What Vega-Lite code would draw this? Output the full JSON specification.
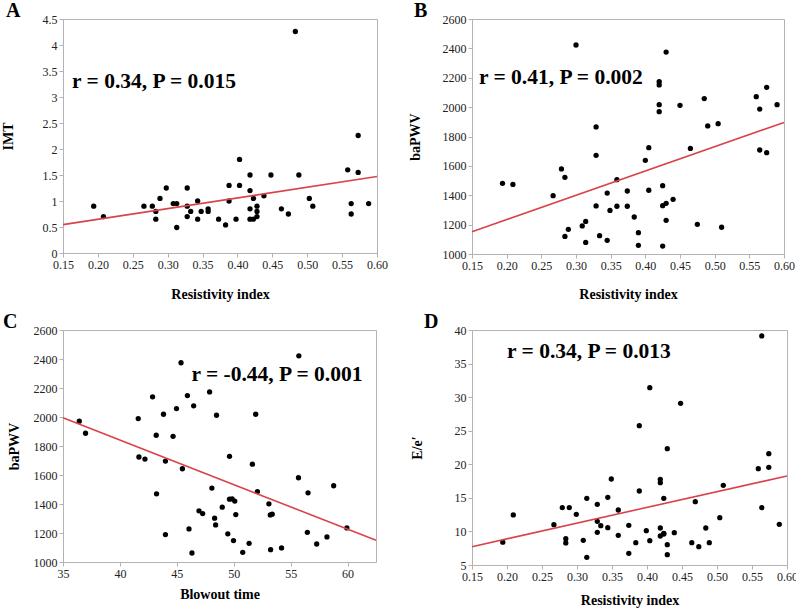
{
  "$schema": "https://vega.github.io/schema/vega-lite/v6.json",
  "background": "white",
  "padding": {"left": 0, "top": 0, "right": 0, "bottom": 0},
  "config": {
    "font": "Liberation Serif",
    "view": {"stroke": "#b3b3b3", "strokeWidth": 1},
    "axis": {
      "grid": false, "domainColor": "#b3b3b3", "tickColor": "#b3b3b3", "tickSize": 4,
      "labelFont": "Liberation Serif", "labelFontSize": 12, "labelColor": "#222222", "labelPadding": 2,
      "labelOverlap": false, "labelFlush": false,
      "titleFont": "Liberation Serif", "titleFontSize": 14, "titleFontWeight": "bold", "titleColor": "#000000"
    },
    "title": {"font": "Liberation Serif", "fontSize": 20, "fontWeight": "bold", "color": "#000000", "anchor": "start", "frame": "group", "offset": 0, "baseline": "alphabetic"}
  },
  "datasets": {
    "a": [
      {"x":0.194,"y":0.9},{"x":0.208,"y":0.7},{"x":0.266,"y":0.9},{"x":0.278,"y":0.9},{"x":0.283,"y":0.8},{"x":0.283,"y":0.65},{"x":0.289,"y":1.05},{"x":0.298,"y":1.25},{"x":0.308,"y":0.95},{"x":0.313,"y":0.95},{"x":0.313,"y":0.49},{"x":0.328,"y":1.25},{"x":0.328,"y":0.9},{"x":0.328,"y":0.7},{"x":0.333,"y":0.8},{"x":0.343,"y":1.0},{"x":0.343,"y":0.65},{"x":0.348,"y":0.8},{"x":0.358,"y":0.85},{"x":0.358,"y":0.8},{"x":0.373,"y":0.65},{"x":0.383,"y":0.54},{"x":0.388,"y":1.3},{"x":0.388,"y":1.0},{"x":0.398,"y":0.65},{"x":0.403,"y":1.8},{"x":0.403,"y":1.3},{"x":0.418,"y":1.5},{"x":0.418,"y":1.2},{"x":0.418,"y":0.85},{"x":0.418,"y":0.65},{"x":0.423,"y":1.05},{"x":0.423,"y":0.65},{"x":0.428,"y":0.9},{"x":0.428,"y":0.8},{"x":0.428,"y":0.7},{"x":0.438,"y":1.1},{"x":0.448,"y":1.5},{"x":0.463,"y":0.85},{"x":0.473,"y":0.75},{"x":0.483,"y":4.26},{"x":0.488,"y":1.5},{"x":0.503,"y":1.05},{"x":0.508,"y":0.9},{"x":0.558,"y":1.6},{"x":0.563,"y":0.95},{"x":0.563,"y":0.75},{"x":0.573,"y":2.26},{"x":0.573,"y":1.55},{"x":0.588,"y":0.95}
    ],
    "aLine": [{"x":0.15,"y":0.545},{"x":0.6,"y":1.47}],
    "b": [
      {"x":0.194,"y":1481},{"x":0.209,"y":1474},{"x":0.267,"y":1397},{"x":0.279,"y":1579},{"x":0.284,"y":1522},{"x":0.284,"y":1120},{"x":0.289,"y":1168},{"x":0.3,"y":2423},{"x":0.309,"y":1191},{"x":0.314,"y":1222},{"x":0.314,"y":1079},{"x":0.329,"y":1865},{"x":0.329,"y":1672},{"x":0.329,"y":1327},{"x":0.334,"y":1125},{"x":0.345,"y":1415},{"x":0.345,"y":1093},{"x":0.349,"y":1297},{"x":0.359,"y":1506},{"x":0.359,"y":1325},{"x":0.374,"y":1429},{"x":0.374,"y":1325},{"x":0.384,"y":1252},{"x":0.39,"y":1145},{"x":0.39,"y":1059},{"x":0.4,"y":1638},{"x":0.405,"y":1724},{"x":0.405,"y":1434},{"x":0.42,"y":2173},{"x":0.42,"y":2151},{"x":0.42,"y":2017},{"x":0.42,"y":1969},{"x":0.425,"y":1465},{"x":0.425,"y":1329},{"x":0.425,"y":1054},{"x":0.43,"y":2375},{"x":0.43,"y":1345},{"x":0.43,"y":1229},{"x":0.44,"y":1372},{"x":0.45,"y":2012},{"x":0.465,"y":1719},{"x":0.475,"y":1202},{"x":0.485,"y":2058},{"x":0.49,"y":1872},{"x":0.505,"y":1887},{"x":0.51,"y":1182},{"x":0.56,"y":2071},{"x":0.565,"y":1987},{"x":0.565,"y":1708},{"x":0.575,"y":2135},{"x":0.575,"y":1690},{"x":0.59,"y":2017}
    ],
    "bLine": [{"x":0.15,"y":1152},{"x":0.6,"y":1896}],
    "c": [
      {"x":36.43,"y":1971},{"x":36.98,"y":1888},{"x":41.61,"y":1989},{"x":41.67,"y":1724},{"x":42.2,"y":1710},{"x":42.87,"y":2139},{"x":43.19,"y":1874},{"x":43.22,"y":1470},{"x":43.83,"y":2019},{"x":44.0,"y":1696},{"x":44.0,"y":1189},{"x":44.67,"y":1867},{"x":44.97,"y":2058},{"x":45.37,"y":2374},{"x":45.49,"y":1643},{"x":45.93,"y":2148},{"x":46.07,"y":1228},{"x":46.33,"y":1062},{"x":46.48,"y":2077},{"x":46.95,"y":1353},{"x":47.27,"y":1334},{"x":47.88,"y":2173},{"x":48.08,"y":1510},{"x":48.32,"y":1302},{"x":48.41,"y":1256},{"x":48.49,"y":2012},{"x":48.99,"y":1378},{"x":49.48,"y":1194},{"x":49.63,"y":1729},{"x":49.63,"y":1433},{"x":49.86,"y":1436},{"x":49.98,"y":1148},{"x":50.09,"y":1420},{"x":50.18,"y":1327},{"x":50.79,"y":1067},{"x":51.35,"y":1129},{"x":51.64,"y":1675},{"x":51.93,"y":2019},{"x":52.08,"y":1486},{"x":53.09,"y":1401},{"x":53.21,"y":1325},{"x":53.24,"y":1085},{"x":53.38,"y":1330},{"x":54.2,"y":1097},{"x":55.72,"y":2422},{"x":55.69,"y":1581},{"x":56.47,"y":1205},{"x":56.53,"y":1477},{"x":57.29,"y":1124},{"x":58.19,"y":1173},{"x":58.78,"y":1526},{"x":59.94,"y":1235}
    ],
    "cLine": [{"x":35,"y":1994},{"x":62.5,"y":1150}],
    "d": [
      {"x":0.194,"y":8.4},{"x":0.209,"y":12.45},{"x":0.267,"y":11.0},{"x":0.279,"y":13.54},{"x":0.284,"y":8.92},{"x":0.284,"y":8.28},{"x":0.289,"y":13.54},{"x":0.299,"y":12.55},{"x":0.309,"y":8.67},{"x":0.314,"y":14.93},{"x":0.314,"y":6.14},{"x":0.329,"y":14.04},{"x":0.329,"y":11.5},{"x":0.329,"y":9.87},{"x":0.334,"y":10.86},{"x":0.344,"y":15.08},{"x":0.344,"y":10.56},{"x":0.349,"y":17.81},{"x":0.359,"y":13.19},{"x":0.359,"y":9.42},{"x":0.374,"y":10.91},{"x":0.374,"y":6.74},{"x":0.384,"y":8.33},{"x":0.389,"y":25.75},{"x":0.389,"y":16.02},{"x":0.399,"y":10.11},{"x":0.404,"y":31.41},{"x":0.404,"y":8.62},{"x":0.419,"y":17.76},{"x":0.419,"y":17.26},{"x":0.419,"y":10.51},{"x":0.419,"y":9.32},{"x":0.424,"y":9.72},{"x":0.424,"y":14.93},{"x":0.424,"y":9.62},{"x":0.429,"y":22.33},{"x":0.429,"y":8.03},{"x":0.429,"y":6.54},{"x":0.439,"y":9.82},{"x":0.448,"y":29.08},{"x":0.464,"y":8.33},{"x":0.469,"y":14.43},{"x":0.474,"y":7.73},{"x":0.484,"y":10.51},{"x":0.489,"y":8.33},{"x":0.504,"y":12.05},{"x":0.509,"y":16.87},{"x":0.559,"y":19.35},{"x":0.564,"y":39.11},{"x":0.564,"y":13.54},{"x":0.574,"y":21.58},{"x":0.574,"y":19.55},{"x":0.589,"y":11.06}
    ],
    "dLine": [{"x":0.15,"y":7.73},{"x":0.6,"y":18.26}]
  },
  "columns": 2,
  "spacing": {"row": 76, "column": 95},
  "bounds": "flush",
  "concat": [
    {
      "width": 314, "height": 234,
      "title": {"text": "A", "dx": -57, "dy": 12},
      "layer": [
        {"data": {"name": "a"}, "mark": {"type": "circle", "size": 28, "color": "#000000", "opacity": 1},
         "encoding": {
           "x": {"field": "x", "type": "quantitative", "scale": {"domain": [0.15, 0.6], "nice": false, "zero": false},
                 "axis": {"values": [0.15,0.2,0.25,0.3,0.35,0.4,0.45,0.5,0.55,0.6], "tickCount": 40, "format": ".2f", "labelOverlap": false, "title": "Resistivity index", "titlePadding": 17}},
           "y": {"field": "y", "type": "quantitative", "scale": {"domain": [0, 4.5], "nice": false},
                 "axis": {"values": [0,0.5,1,1.5,2,2.5,3,3.5,4,4.5], "tickCount": 40, "format": "~g", "labelOverlap": false, "title": "IMT", "titlePadding": 27}}}},
        {"data": {"name": "aLine"}, "mark": {"type": "line", "color": "#d9434b", "strokeWidth": 1.6},
         "encoding": {"x": {"field": "x", "type": "quantitative"}, "y": {"field": "y", "type": "quantitative"}}},
        {"data": {"values": [{"label": "r = 0.34, P = 0.015"}]}, "mark": {"type": "text", "align": "left", "baseline": "middle", "fontSize": 21.5, "fontWeight": "bold", "font": "Liberation Serif", "color": "#000000"},
         "encoding": {"x": {"datum": 0.163}, "y": {"datum": 3.28}, "text": {"field": "label"}}}
      ]
    },
    {
      "width": 312, "height": 235,
      "title": {"text": "B", "dx": -58, "dy": 12},
      "layer": [
        {"data": {"name": "b"}, "mark": {"type": "circle", "size": 28, "color": "#000000", "opacity": 1},
         "encoding": {
           "x": {"field": "x", "type": "quantitative", "scale": {"domain": [0.15, 0.6], "nice": false, "zero": false},
                 "axis": {"values": [0.15,0.2,0.25,0.3,0.35,0.4,0.45,0.5,0.55,0.6], "tickCount": 40, "format": ".2f", "labelOverlap": false, "title": "Resistivity index", "titlePadding": 16}},
           "y": {"field": "y", "type": "quantitative", "scale": {"domain": [1000, 2600], "nice": false, "zero": false},
                 "axis": {"values": [1000,1200,1400,1600,1800,2000,2200,2400,2600], "tickCount": 40, "format": "d", "labelOverlap": false, "title": "baPWV", "titlePadding": 20}}}},
        {"data": {"name": "bLine"}, "mark": {"type": "line", "color": "#d9434b", "strokeWidth": 1.6},
         "encoding": {"x": {"field": "x", "type": "quantitative"}, "y": {"field": "y", "type": "quantitative"}}},
        {"data": {"values": [{"label": "r = 0.41, P = 0.002"}]}, "mark": {"type": "text", "align": "left", "baseline": "middle", "fontSize": 21.5, "fontWeight": "bold", "font": "Liberation Serif", "color": "#000000"},
         "encoding": {"x": {"datum": 0.16}, "y": {"datum": 2196}, "text": {"field": "label"}}}
      ]
    },
    {
      "width": 313, "height": 232,
      "title": {"text": "C", "dx": -60, "dy": 12},
      "layer": [
        {"data": {"name": "c"}, "mark": {"type": "circle", "size": 28, "color": "#000000", "opacity": 1},
         "encoding": {
           "x": {"field": "x", "type": "quantitative", "scale": {"domain": [35, 62.5], "nice": false, "zero": false},
                 "axis": {"values": [35,40,45,50,55,60], "tickCount": 40, "format": "d", "labelOverlap": false, "title": "Blowout time", "titlePadding": 8}},
           "y": {"field": "y", "type": "quantitative", "scale": {"domain": [1000, 2600], "nice": false, "zero": false},
                 "axis": {"values": [1000,1200,1400,1600,1800,2000,2200,2400,2600], "tickCount": 40, "format": "d", "labelOverlap": false, "title": "baPWV", "titlePadding": 12}}}},
        {"data": {"name": "cLine"}, "mark": {"type": "line", "color": "#d9434b", "strokeWidth": 1.6},
         "encoding": {"x": {"field": "x", "type": "quantitative"}, "y": {"field": "y", "type": "quantitative"}}},
        {"data": {"values": [{"label": "r = -0.44, P = 0.001"}]}, "mark": {"type": "text", "align": "left", "baseline": "middle", "fontSize": 21.5, "fontWeight": "bold", "font": "Liberation Serif", "color": "#000000"},
         "encoding": {"x": {"datum": 46.28}, "y": {"datum": 2289}, "text": {"field": "label"}}}
      ]
    },
    {
      "width": 315, "height": 235,
      "title": {"text": "D", "dx": -48, "dy": 12},
      "layer": [
        {"data": {"name": "d"}, "mark": {"type": "circle", "size": 28, "color": "#000000", "opacity": 1},
         "encoding": {
           "x": {"field": "x", "type": "quantitative", "scale": {"domain": [0.15, 0.6], "nice": false, "zero": false},
                 "axis": {"values": [0.15,0.2,0.25,0.3,0.35,0.4,0.45,0.5,0.55,0.6], "tickCount": 40, "format": ".2f", "labelOverlap": false, "title": "Resistivity index", "titlePadding": 11}},
           "y": {"field": "y", "type": "quantitative", "scale": {"domain": [5, 40], "nice": false, "zero": false},
                 "axis": {"values": [5,10,15,20,25,30,35,40], "tickCount": 40, "format": "d", "labelOverlap": false, "title": "E/e′", "titlePadding": 30}}}},
        {"data": {"name": "dLine"}, "mark": {"type": "line", "color": "#d9434b", "strokeWidth": 1.6},
         "encoding": {"x": {"field": "x", "type": "quantitative"}, "y": {"field": "y", "type": "quantitative"}}},
        {"data": {"values": [{"label": "r = 0.34, P = 0.013"}]}, "mark": {"type": "text", "align": "left", "baseline": "middle", "fontSize": 21.5, "fontWeight": "bold", "font": "Liberation Serif", "color": "#000000"},
         "encoding": {"x": {"datum": 0.2}, "y": {"datum": 36.7}, "text": {"field": "label"}}}
      ]
    }
  ]
}
